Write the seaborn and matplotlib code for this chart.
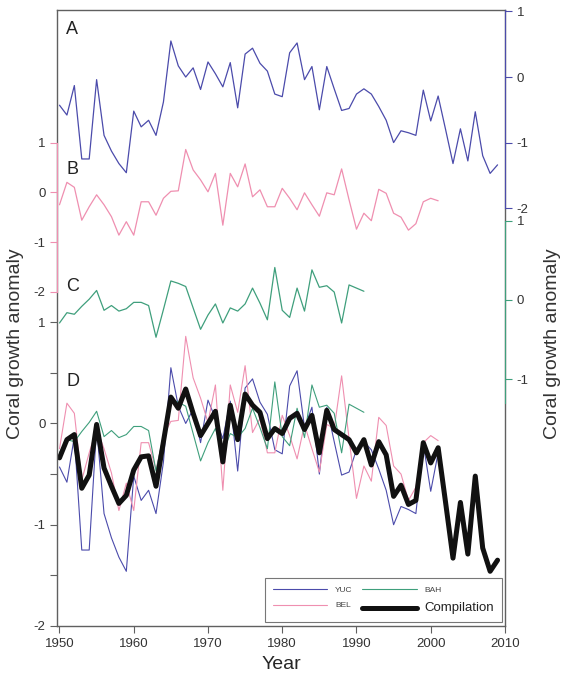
import numpy as np
import pandas as pd
import seaborn as sns
import matplotlib.pyplot as plt

years = np.arange(1950, 2010)

yuc = [-0.43, -0.58, -0.13, -1.25, -1.25, -0.04, -0.89, -1.13, -1.32, -1.46,
       -0.52, -0.76, -0.66, -0.89, -0.38, 0.55, 0.17, 0.00, 0.14, -0.19,
       0.23, 0.05, -0.15, 0.22, -0.47, 0.35, 0.44, 0.21, 0.09, -0.26,
       -0.30, 0.37, 0.52, -0.04, 0.16, -0.50, 0.16, -0.18, -0.51, -0.48,
       -0.26, -0.18, -0.26, -0.45, -0.66, -1.00, -0.82, -0.85, -0.89, -0.20,
       -0.67, -0.29, -0.80, -1.32, -0.79, -1.28, -0.53, -1.20, -1.47, -1.34]

bel = [-0.25, 0.20, 0.10, -0.56, -0.29, -0.05, -0.25, -0.49, -0.86, -0.59,
       -0.86, -0.19, -0.19, -0.46, -0.12, 0.02, 0.03, 0.86, 0.45, 0.25,
       0.01, 0.38, -0.66, 0.38, 0.11, 0.57, -0.09, 0.05, -0.29, -0.29,
       0.08, -0.12, -0.35, -0.01, -0.25, -0.48, -0.01, -0.05, 0.47, -0.15,
       -0.74, -0.42, -0.57, 0.06, -0.02, -0.42, -0.50, -0.76, -0.63, -0.19,
       -0.12, -0.17]

bah = [-0.29, -0.16, -0.18, -0.08, 0.01, 0.12, -0.13, -0.07, -0.14, -0.11,
       -0.03, -0.03, -0.07, -0.47, -0.12, 0.24, 0.21, 0.17, -0.10, -0.37,
       -0.19, -0.05, -0.29, -0.10, -0.14, -0.05, 0.15, -0.04, -0.25, 0.41,
       -0.13, -0.22, 0.15, -0.14, 0.38, 0.16, 0.18, 0.10, -0.29, 0.19,
       0.15, 0.11]

comp = [-0.34, -0.16, -0.11, -0.64, -0.51, -0.01, -0.44, -0.62, -0.79, -0.71,
        -0.46, -0.33, -0.32, -0.62, -0.18, 0.26, 0.15, 0.34, 0.10, -0.12,
        0.00, 0.12, -0.38, 0.18, -0.16, 0.29, 0.18, 0.11, -0.15, -0.05,
        -0.10, 0.05, 0.10, -0.06, 0.08, -0.29, 0.13, -0.06, -0.11, -0.16,
        -0.29, -0.16, -0.41, -0.18, -0.31, -0.72, -0.61, -0.80, -0.76, -0.19,
        -0.39, -0.24, -0.78, -1.33, -0.78, -1.29, -0.52, -1.23, -1.46, -1.35]

c_yuc = '#4b4bab'
c_bel = '#ef8fb0'
c_bah = '#3f9f7c'
c_frame = '#606060'

sns.set_style('ticks')
plt.rcParams['font.family'] = ['Liberation Sans', 'DejaVu Sans']
plt.rcParams['axes.unicode_minus'] = False

fig = plt.figure(figsize=(5.67, 6.84), dpi=100)
axD = fig.add_axes([0.101, 0.0848, 0.7896, 0.9013])
axA = axD.twinx()
axB = axD.twinx()
axC = axD.twinx()

# D panel: all records plus compilation
sns.lineplot(x=years, y=yuc, ax=axD, color=c_yuc, lw=0.8, label='YUC')
sns.lineplot(x=years[:len(bel)], y=bel, ax=axD, color=c_bel, lw=0.8, label='BEL')
sns.lineplot(x=years[:len(bah)], y=bah, ax=axD, color=c_bah, lw=0.8, label='BAH')
sns.lineplot(x=years, y=comp, ax=axD, color='#111111', lw=3.6, label='Compilation')

# stacked panels A-C
sns.lineplot(x=years, y=yuc, ax=axA, color=c_yuc, lw=0.9)
sns.lineplot(x=years[:len(bel)], y=bel, ax=axB, color=c_bel, lw=0.9)
sns.lineplot(x=years[:len(bah)], y=bah, ax=axC, color=c_bah, lw=0.9)

axD.set_xlim(1949.7, 2010)
axD.set_xticks(range(1950, 2011, 10))
axD.set_ylim(-2.0, 4.087)
axA.set_ylim(-8.375, 1.03)
axB.set_ylim(-8.709, 3.671)
axC.set_ylim(-4.111, 3.663)

for s in axD.spines.values():
    s.set_visible(True)
    s.set_color(c_frame)
    s.set_linewidth(1.0)
axD.set_yticks([-2, -1, 0, 1])
axD.set_yticks([-1.5, -0.5, 0.5], minor=True)
axD.tick_params(axis='y', which='both', left=True, right=False, direction='out',
                length=5, width=0.8, colors=c_frame, labelcolor='#333333', labelsize=9.5)
axD.tick_params(axis='x', direction='out', length=5, width=0.8, colors=c_frame,
                labelcolor='#333333', labelsize=9.5, pad=4)

for tw in (axA, axB, axC):
    tw.patch.set_visible(False)
    for s in tw.spines.values():
        s.set_visible(False)

axA.spines['right'].set_visible(True)
axA.spines['right'].set_color(c_yuc)
axA.spines['right'].set_bounds(-2, 1.03)
axA.set_yticks([-2, -1, 0, 1])
axA.tick_params(axis='y', direction='out', length=5, width=0.8, colors=c_yuc,
                labelcolor='#333333', labelsize=9.5)

axB.yaxis.tick_left()
axB.spines['left'].set_visible(True)
axB.spines['left'].set_color(c_bel)
axB.spines['left'].set_bounds(-2, 1)
axB.set_yticks([-2, -1, 0, 1])
axB.tick_params(axis='y', direction='out', length=5, width=0.8, colors=c_bel,
                labelcolor='#333333', labelsize=9.5)

axC.spines['right'].set_visible(True)
axC.spines['right'].set_color(c_bah)
axC.spines['right'].set_bounds(-1.3, 1)
axC.set_yticks([-1, 0, 1])
axC.tick_params(axis='y', direction='out', length=5, width=0.8, colors=c_bah,
                labelcolor='#333333', labelsize=9.5)

for tw in (axA, axB, axC):
    tw.set_xlabel('')
    tw.set_ylabel('')

# panel letters
for letter, yy in zip(['A', 'B', 'C', 'D'], [0.967, 0.740, 0.551, 0.396]):
    axD.text(0.02, yy, letter, transform=axD.transAxes, fontsize=13,
             ha='left', va='center', color='#222222')

axD.set_xlabel('Year', fontsize=14, labelpad=4)
axD.set_ylabel('')
fig.text(0.028, 0.497, 'Coral growth anomaly', rotation=90, fontsize=14,
         ha='center', va='center', color='#333333')
fig.text(0.975, 0.497, 'Coral growth anomaly', rotation=90, fontsize=14,
         ha='center', va='center', color='#333333')

leg = axD.legend(loc='lower right', bbox_to_anchor=(0.9935, 0.0065), ncol=2,
                 fontsize=6, handlelength=6.5, handletextpad=0.9, columnspacing=1.2,
                 labelspacing=0.9, borderpad=1.0, borderaxespad=0, fancybox=False,
                 edgecolor='#777777', framealpha=1)
leg.get_frame().set_linewidth(0.8)
for t in leg.get_texts():
    t.set_color('#444444')
    if t.get_text() == 'Compilation':
        t.set_fontsize(9.5)
        t.set_color('#222222')

fig.savefig('out.png', dpi=100)
